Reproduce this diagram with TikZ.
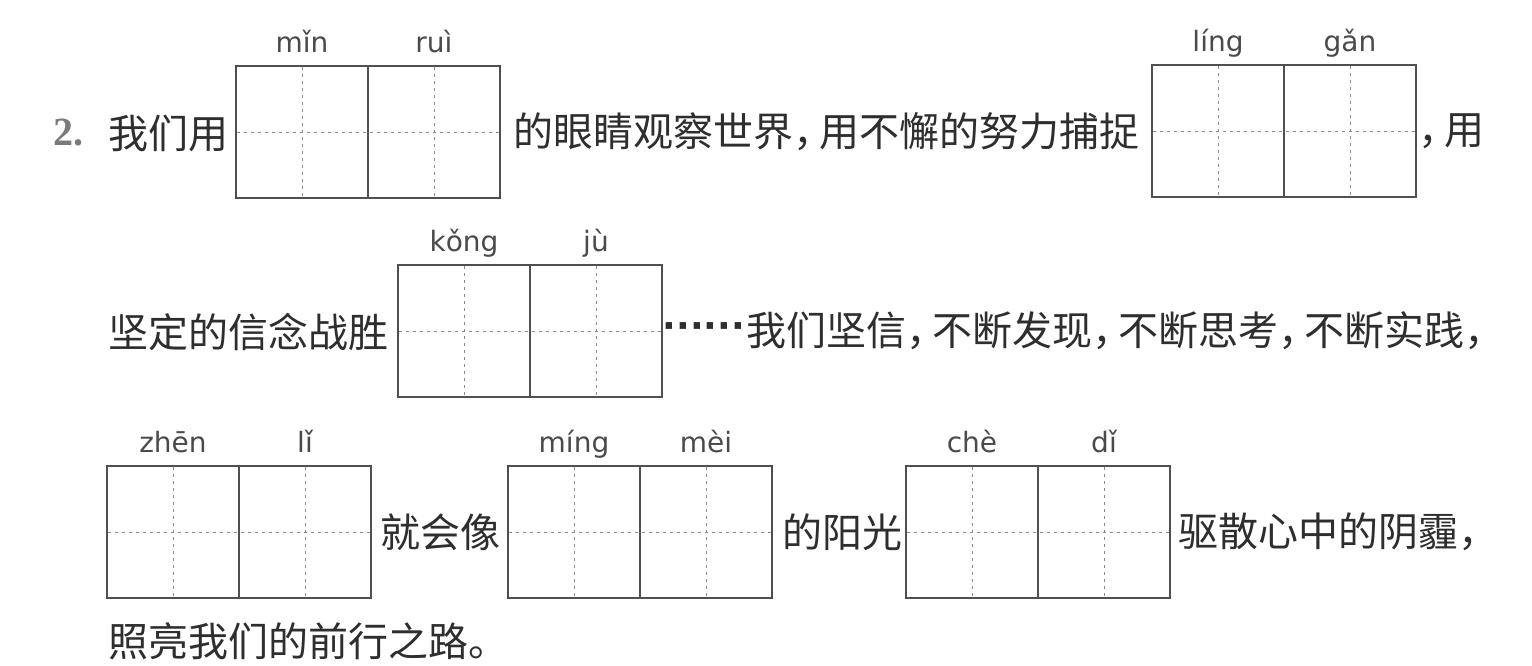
\documentclass[tikz,border=0pt]{standalone}
\usepackage{fontspec}
\setmainfont{Liberation Serif}
\newfontfamily\hzfont{Noto Sans CJK SC}
\newfontfamily\pyfont{DejaVu Sans}
\usetikzlibrary{positioning}
\definecolor{boxgray}{HTML}{505050}
\definecolor{guidegray}{HTML}{8A8A8A}
\definecolor{txtgray}{HTML}{2E2E2E}
\definecolor{pygray}{HTML}{4A4A4A}
\definecolor{numgray}{HTML}{7A7A7A}
\tikzset{
    cell/.style={draw=boxgray, line width=1.2pt, minimum size=132pt,
        inner sep=0pt, outer sep=0pt},
    guide/.style={draw=guidegray, line width=0.8pt,
        dash pattern=on 3pt off 4pt, shorten <=1pt, shorten >=1pt},
    pinyin/.style={font=\pyfont\fontsize{28}{30}\selectfont, text=pygray,
        inner sep=0pt},
    hanzi/.style={font=\hzfont\fontsize{40}{42}\selectfont, text=txtgray,
        inner sep=0pt, anchor=west},
    dots/.style={font=\pyfont\bfseries\fontsize{36}{38}\selectfont,
        text=txtgray, inner sep=0pt, anchor=west},
}
% two tianzi cells with pinyin: name, top left corner, pinyin a, pinyin b
\newcommand{\tianzi}[4]{%
    \node[cell, anchor=north west] (#1a) at (#2) {};
    \node[cell, right=0pt of #1a] (#1b) {};
    \draw[guide] (#1a.west) -- (#1b.east);
    \draw[guide] (#1a.north) -- (#1a.south);
    \draw[guide] (#1b.north) -- (#1b.south);
    \node[pinyin, anchor=base] (#1pa) at ([yshift=14pt]#1a.north) {#3};
    \node[pinyin, anchor=base] (#1pb) at ([yshift=14pt]#1b.north) {#4};
}
\newcommand{\dou}{\makebox[0.65em][l]{，}}

\begin{document}
\begin{tikzpicture}[x=1pt, y=-1pt]
    \fill[white] (0,0) rectangle (1532,665);
    \useasboundingbox (0,0) rectangle (1532,665);

    % row 1
    \node[anchor=west, inner sep=0pt, text=numgray,
        font=\bfseries\fontsize{40}{42}\selectfont] (num) at (53,133) {2.};
    \node[hanzi] (r1t1) at (108,133) {我们用};
    \tianzi{mr}{236,66}{mǐn}{ruì}
    \node[hanzi, right=13pt of mrb] (r1t2) {的眼睛观察世界\dou 用不懈的努力捕捉};
    \tianzi{lg}{1152,65}{líng}{gǎn}
    \node[hanzi, right=2pt of lgb] (r1t3) {\dou 用};

    % row 2
    \node[hanzi] (r2t1) at (108,332) {坚定的信念战胜};
    \tianzi{kj}{398,265}{kǒng}{jù}
    \node[dots] (r2dots) at ([xshift=0.5pt]kjb.east)
        {\makebox[80pt][s]{·\hfill·\hfill·\hfill·\hfill·\hfill·}};
    \node[hanzi, right=3pt of r2dots] (r2t2)
        {我们坚信\dou 不断发现\dou 不断思考\dou 不断实践\dou};

    % row 3
    \tianzi{zl}{107,466}{zhēn}{lǐ}
    \node[hanzi, right=9pt of zlb] (r3t1) {就会像};
    \tianzi{mm}{508,466}{míng}{mèi}
    \node[hanzi, right=10pt of mmb] (r3t2) {的阳光};
    \tianzi{cd}{906,466}{chè}{dǐ}
    \node[hanzi, right=8pt of cdb] (r3t3) {驱散心中的阴霾\dou};

    % row 4
    \node[hanzi] (r4t1) at (108,641) {照亮我们的前行之路。};
\end{tikzpicture}
\end{document}
